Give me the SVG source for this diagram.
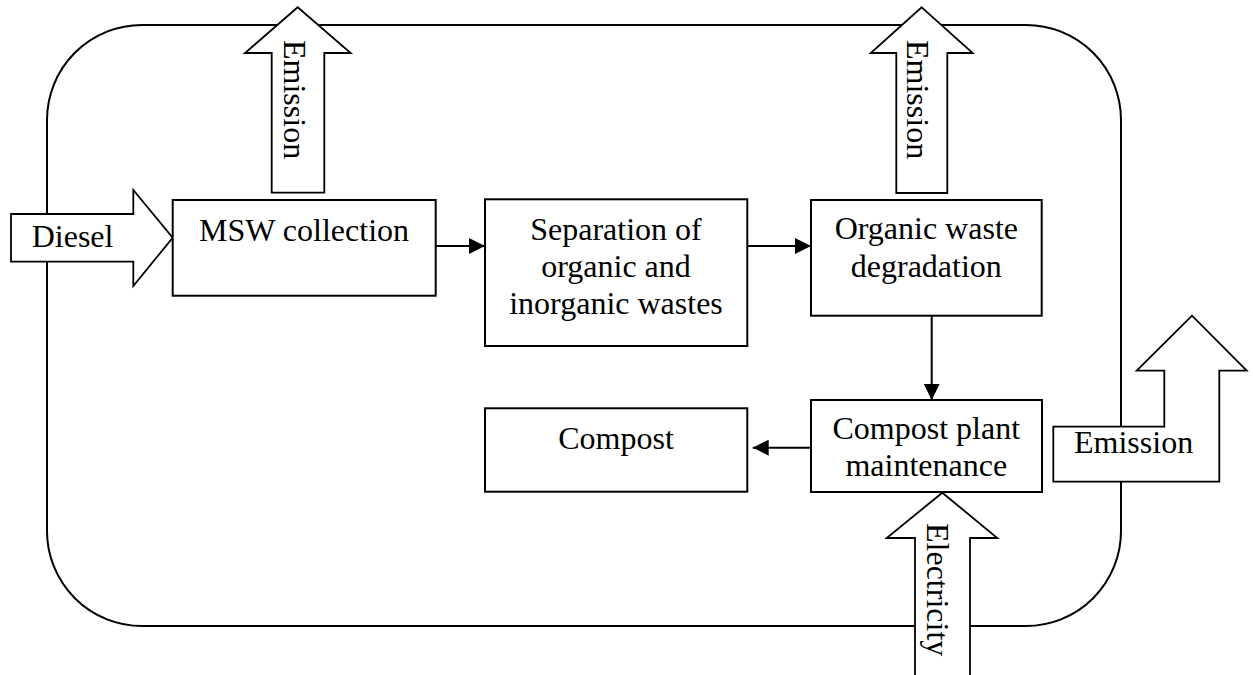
<svg xmlns="http://www.w3.org/2000/svg" width="1253" height="675" viewBox="0 0 1253 675">
<style>
  .box { fill: #fff; stroke: #000; stroke-width: 2; }
  .frame { fill: none; stroke: #000; stroke-width: 2; }
  .flow { fill: #fff; stroke: #000; stroke-width: 1.8; stroke-linejoin: miter; }
  .lbl { font-family: "Liberation Serif", "Times New Roman", serif; font-size: 32px; fill: #000; }
  .c { text-anchor: middle; }
  .conn { stroke: #000; stroke-width: 2; fill: none; }
</style>
<defs>
  <marker id="ah" viewBox="0 0 16 16" refX="16" refY="8" markerWidth="16" markerHeight="16" markerUnits="userSpaceOnUse" orient="auto">
    <path d="M0,0 L16,8 L0,16 Z" fill="#000"/>
  </marker>
</defs>
<rect width="1253" height="675" fill="#fff"/>
<g id="boundary">
  <rect class="frame" x="47" y="25" width="1074" height="601" rx="95" ry="95"/>
</g>
<g id="emission-top-left">
  <polygon class="flow" points="297.7,7.3 350.7,53 324.3,53 324.3,192.7 271.7,192.7 271.7,53 245,53"/>
  <text class="lbl" transform="translate(284,40) rotate(90)">Emission</text>
</g>
<g id="emission-top-right">
  <polygon class="flow" points="921.7,7.3 972.7,53 947.3,53 947.3,193 896.3,193 896.3,53 870.7,53"/>
  <text class="lbl" transform="translate(907,40) rotate(90)">Emission</text>
</g>
<g id="diesel">
  <polygon class="flow" points="11,214 133.3,214 133.3,190 172.7,237.7 133.3,286 133.3,261.7 11,261.7"/>
  <text class="lbl" x="31.7" y="246.7">Diesel</text>
</g>
<g id="electricity">
  <polygon class="flow" points="942.3,492.7 997.3,538 970,538 970,677 915,677 915,538 886.7,538"/>
  <text class="lbl" transform="translate(927,523) rotate(90)">Electricity</text>
</g>
<g id="emission-right">
  <polygon class="flow" points="1053.3,426.7 1164.3,426.7 1164.3,370.7 1136.7,370.7 1192,315.7 1246.7,370.7 1219.3,370.7 1219.3,481.7 1053.3,481.7"/>
  <text class="lbl" x="1074" y="453.3">Emission</text>
</g>
<g id="msw-collection">
  <rect class="box" x="172.7" y="200" width="263" height="95.7"/>
  <text class="lbl c" x="304" y="240.7">MSW collection</text>
</g>
<g id="separation">
  <rect class="box" x="485" y="199.3" width="262.3" height="146.7"/>
  <text class="lbl c" x="616" y="240">Separation of</text>
  <text class="lbl c" x="616" y="277">organic and</text>
  <text class="lbl c" x="616" y="314">inorganic wastes</text>
</g>
<g id="organic-degradation">
  <rect class="box" x="811" y="200" width="230.7" height="115.7"/>
  <text class="lbl c" x="926.3" y="239.3">Organic waste</text>
  <text class="lbl c" x="926.3" y="276.7">degradation</text>
</g>
<g id="compost-plant">
  <rect class="box" x="811" y="400" width="231" height="92"/>
  <text class="lbl c" x="926.3" y="439.3">Compost plant</text>
  <text class="lbl c" x="926.3" y="476">maintenance</text>
</g>
<g id="compost">
  <rect class="box" x="485" y="408.3" width="262.3" height="83.4"/>
  <text class="lbl c" x="616" y="449.3">Compost</text>
</g>
<g id="connectors">
  <line class="conn" x1="435.7" y1="246" x2="485" y2="246" marker-end="url(#ah)"/>
  <line class="conn" x1="747.3" y1="246" x2="811" y2="246" marker-end="url(#ah)"/>
  <line class="conn" x1="931.7" y1="315.7" x2="931.7" y2="400" marker-end="url(#ah)"/>
  <line class="conn" x1="811" y1="447.7" x2="752.7" y2="447.7" marker-end="url(#ah)"/>
</g>
</svg>
